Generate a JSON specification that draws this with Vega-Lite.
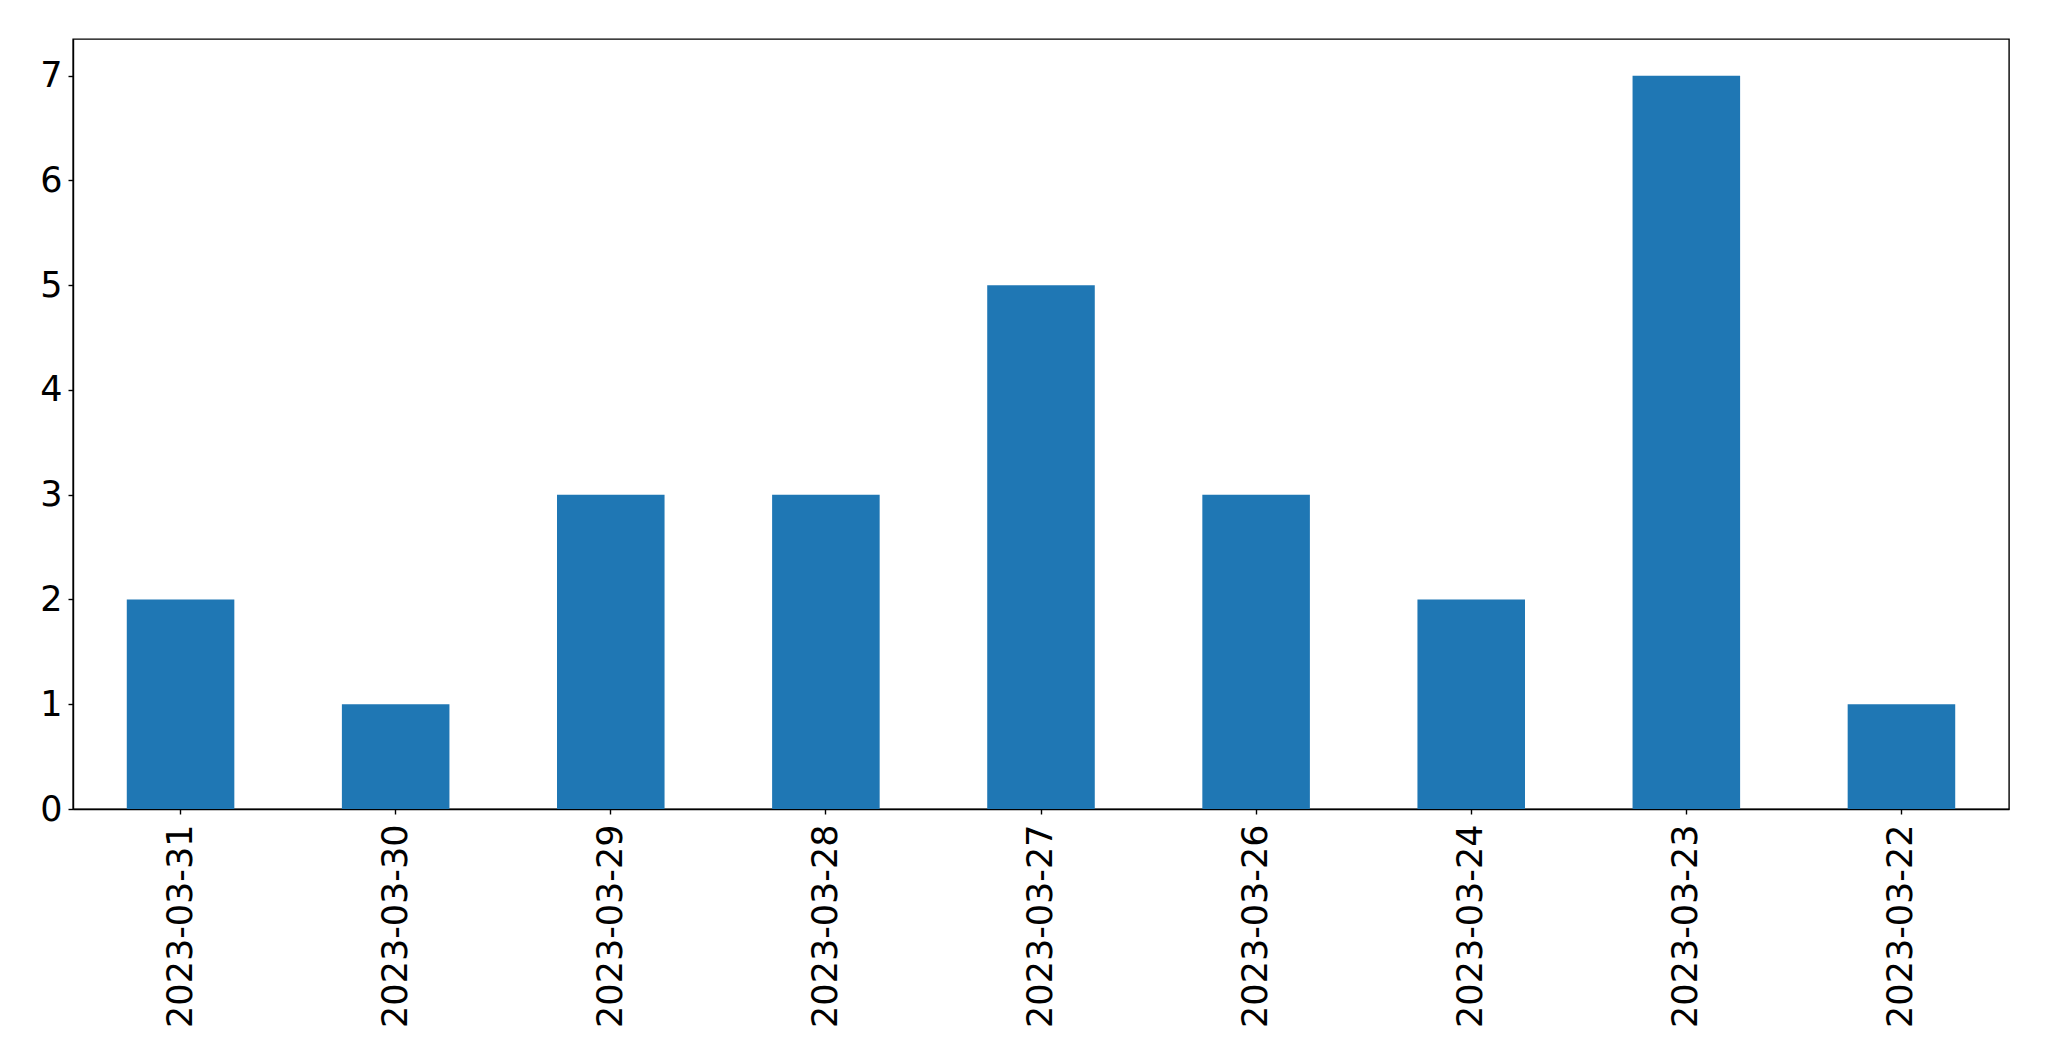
{
  "$schema": "https://vega.github.io/schema/vega-lite/v6.json",
  "autosize": {"type": "none"},
  "width": 1936,
  "height": 770,
  "padding": {"left": 73, "top": 39, "right": 40, "bottom": 252},
  "background": "white",
  "config": {
    "font": "DejaVu Sans",
    "view": {"stroke": "black", "strokeWidth": 1.4},
    "axis": {
      "domainColor": "black",
      "domainWidth": 1.4,
      "tickColor": "black",
      "tickWidth": 1.4,
      "tickSize": 5,
      "labelFont": "DejaVu Sans",
      "labelFontSize": 35,
      "labelColor": "black",
      "labelLimit": 0,
      "grid": false,
      "title": null
    }
  },
  "data": {
    "values": [
      {"date": "2023-03-31", "count": 2},
      {"date": "2023-03-30", "count": 1},
      {"date": "2023-03-29", "count": 3},
      {"date": "2023-03-28", "count": 3},
      {"date": "2023-03-27", "count": 5},
      {"date": "2023-03-26", "count": 3},
      {"date": "2023-03-24", "count": 2},
      {"date": "2023-03-23", "count": 7},
      {"date": "2023-03-22", "count": 1}
    ]
  },
  "mark": {"type": "bar", "color": "#1f77b4"},
  "encoding": {
    "x": {
      "field": "date",
      "type": "nominal",
      "sort": null,
      "scale": {"paddingInner": 0.5, "paddingOuter": 0.25},
      "axis": {"labelAngle": -90, "labelPadding": 10}
    },
    "y": {
      "field": "count",
      "type": "quantitative",
      "scale": {"domain": [0, 7.35], "nice": false, "zero": true},
      "axis": {"values": [0, 1, 2, 3, 4, 5, 6, 7], "labelPadding": 6}
    }
  }
}
